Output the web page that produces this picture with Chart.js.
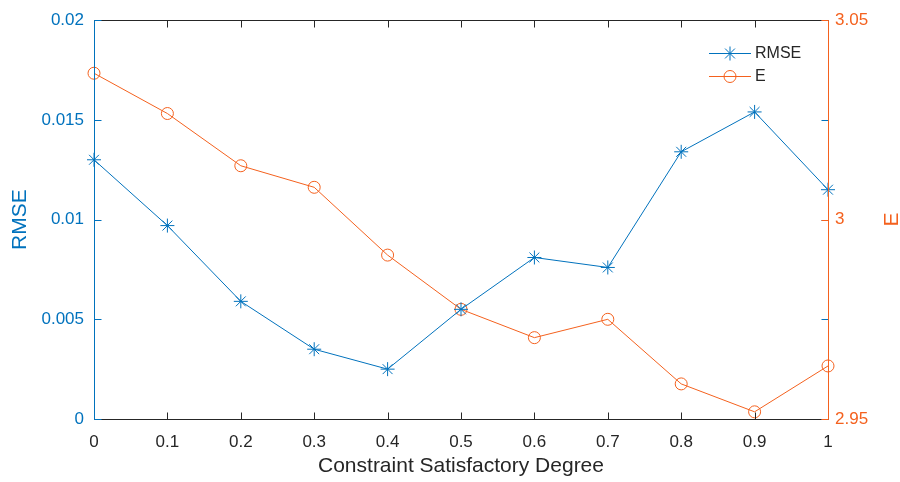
<!DOCTYPE html>
<html>
<head>
<meta charset="utf-8">
<script src="https://cdn.jsdelivr.net/npm/chart.js@4.4.1/dist/chart.umd.min.js"></script>
<style>
  html, body { margin: 0; padding: 0; background: #fff; }
  #wrap { width: 900px; height: 482px; }
</style>
</head>
<body>
<div id="wrap"><canvas id="chart" width="900" height="482"></canvas></div>
<script>
// data
const degrees = [0, 0.1, 0.2, 0.3, 0.4, 0.5, 0.6, 0.7, 0.8, 0.9, 1];
const rmseValues = [0.0130, 0.0097, 0.0059, 0.0035, 0.0025, 0.0055, 0.0081, 0.0076, 0.0134, 0.0154, 0.0115];
const eValues = [3.0367, 3.0266, 3.0135, 3.0081, 2.9911, 2.9775, 2.9704, 2.9750, 2.9588, 2.9518, 2.9633];
const rmseTicks = [0, 0.005, 0.01, 0.015, 0.02];
const eTicks = [2.95, 3, 3.05];

const blue = '#0072BD';
const orange = '#F4611E';
const dark = '#262626';
const fontFamily = '"Liberation Sans", Arial, Helvetica, sans-serif';

// axes frame, inward ticks, legend and right label (MATLAB style)
const framePlugin = {
    id: 'frame',
    afterDraw(chart) {
        const ctx = chart.ctx;
        const { left, right, top, bottom } = chart.chartArea;
        const x = chart.scales.x, y = chart.scales.y, y1 = chart.scales.y1;
        const tl = 7;
        const L = Math.round(left) + 0.5, R = Math.round(right) + 0.5;
        const T = Math.round(top) + 0.5, B = Math.round(bottom) + 0.5;
        ctx.save();
        ctx.lineWidth = 1;

        ctx.strokeStyle = dark;
        ctx.beginPath();
        ctx.moveTo(L, T); ctx.lineTo(R, T);
        ctx.moveTo(L, B); ctx.lineTo(R, B);
        x.ticks.forEach(t => {
            const px = Math.round(x.getPixelForValue(t.value)) + 0.5;
            ctx.moveTo(px, B); ctx.lineTo(px, B - tl);
            ctx.moveTo(px, T); ctx.lineTo(px, T + tl);
        });
        ctx.stroke();

        ctx.strokeStyle = blue;
        ctx.beginPath();
        ctx.moveTo(L, T); ctx.lineTo(L, B);
        rmseTicks.forEach(v => {
            const py = Math.round(y.getPixelForValue(v)) + 0.5;
            ctx.moveTo(L, py); ctx.lineTo(L + tl, py);
            ctx.moveTo(R, py); ctx.lineTo(R - tl, py);
        });
        ctx.stroke();

        ctx.strokeStyle = orange;
        ctx.beginPath();
        ctx.moveTo(R, T); ctx.lineTo(R, B);
        eTicks.forEach(v => {
            const py = Math.round(y1.getPixelForValue(v)) + 0.5;
            ctx.moveTo(R, py); ctx.lineTo(R - tl, py);
        });
        ctx.stroke();

        // right axis title, rotated like the left one
        ctx.fillStyle = orange;
        ctx.font = '21px ' + fontFamily;
        ctx.textAlign = 'center';
        ctx.textBaseline = 'middle';
        ctx.translate(892, (top + bottom) / 2);
        ctx.rotate(-Math.PI / 2);
        ctx.fillText('E', 0, 0);
        ctx.setTransform(1, 0, 0, 1, 0, 0);

        // legend
        const items = [
            { label: 'RMSE', color: blue, style: 'star', r: 7, y: 53 },
            { label: 'E', color: orange, style: 'circle', r: 6, y: 76 }
        ];
        ctx.font = '16px ' + fontFamily;
        ctx.textAlign = 'left';
        items.forEach(it => {
            ctx.strokeStyle = it.color;
            ctx.beginPath();
            ctx.moveTo(709, it.y + 0.5); ctx.lineTo(751, it.y + 0.5);
            ctx.stroke();
            ctx.fillStyle = 'rgba(0,0,0,0)';
            Chart.helpers.drawPoint(ctx, { pointStyle: it.style, radius: it.r, borderWidth: 1 }, 730, it.y + 0.5);
            ctx.fillStyle = dark;
            ctx.fillText(it.label, 755, it.y + 1);
        });
        ctx.restore();
    }
};

new Chart(document.getElementById('chart'), {
    type: 'line',
    data: {
        labels: degrees,
        datasets: [
            {
                label: 'RMSE',
                data: degrees.map((d, i) => ({ x: d, y: rmseValues[i] })),
                yAxisID: 'y',
                borderColor: blue,
                backgroundColor: 'rgba(0,0,0,0)',
                borderWidth: 1,
                pointStyle: 'star',
                pointRadius: 7,
                pointBorderWidth: 1,
                pointBorderColor: blue,
                tension: 0
            },
            {
                label: 'E',
                data: degrees.map((d, i) => ({ x: d, y: eValues[i] })),
                yAxisID: 'y1',
                borderColor: orange,
                backgroundColor: 'rgba(0,0,0,0)',
                borderWidth: 1,
                pointStyle: 'circle',
                pointRadius: 6,
                pointBorderWidth: 1,
                pointBorderColor: orange,
                pointBackgroundColor: 'rgba(0,0,0,0)',
                tension: 0
            }
        ]
    },
    options: {
        responsive: false,
        animation: false,
        clip: false,
        layout: { padding: { top: 20, left: 0, right: 0, bottom: 0 } },
        plugins: {
            legend: { display: false },
            tooltip: { enabled: false }
        },
        scales: {
            x: {
                type: 'linear',
                min: 0,
                max: 1,
                afterFit: s => { s.height = 63; },
                afterBuildTicks: s => { s.ticks = degrees.map(v => ({ value: v })); },
                grid: { display: false, drawTicks: false },
                border: { display: false },
                ticks: {
                    color: dark,
                    padding: 13,
                    maxRotation: 0,
                    font: { size: 17, family: fontFamily },
                    callback: v => String(Math.round(v * 10) / 10)
                },
                title: {
                    display: true,
                    text: 'Constraint Satisfactory Degree',
                    color: dark,
                    font: { size: 21, family: fontFamily, lineHeight: 1 },
                    padding: { top: 0, bottom: 5 }
                }
            },
            y: {
                position: 'left',
                min: 0,
                max: 0.02,
                afterFit: s => { s.width = 94; },
                afterBuildTicks: s => { s.ticks = rmseTicks.map(v => ({ value: v })); },
                grid: { display: false, drawTicks: false },
                border: { display: false },
                ticks: {
                    color: blue,
                    padding: 10,
                    font: { size: 17, family: fontFamily },
                    callback: v => String(parseFloat(v.toFixed(3)))
                },
                title: {
                    display: true,
                    text: 'RMSE',
                    color: blue,
                    font: { size: 21, family: fontFamily, lineHeight: 1 },
                    padding: { top: 10, bottom: 0 }
                }
            },
            y1: {
                position: 'right',
                min: 2.95,
                max: 3.05,
                afterFit: s => { s.width = 72; },
                afterBuildTicks: s => { s.ticks = eTicks.map(v => ({ value: v })); },
                grid: { display: false, drawTicks: false },
                border: { display: false },
                ticks: {
                    color: orange,
                    padding: 7,
                    font: { size: 17, family: fontFamily },
                    callback: v => String(parseFloat(v.toFixed(2)))
                }
            }
        }
    },
    plugins: [framePlugin]
});
</script>
</body>
</html>
